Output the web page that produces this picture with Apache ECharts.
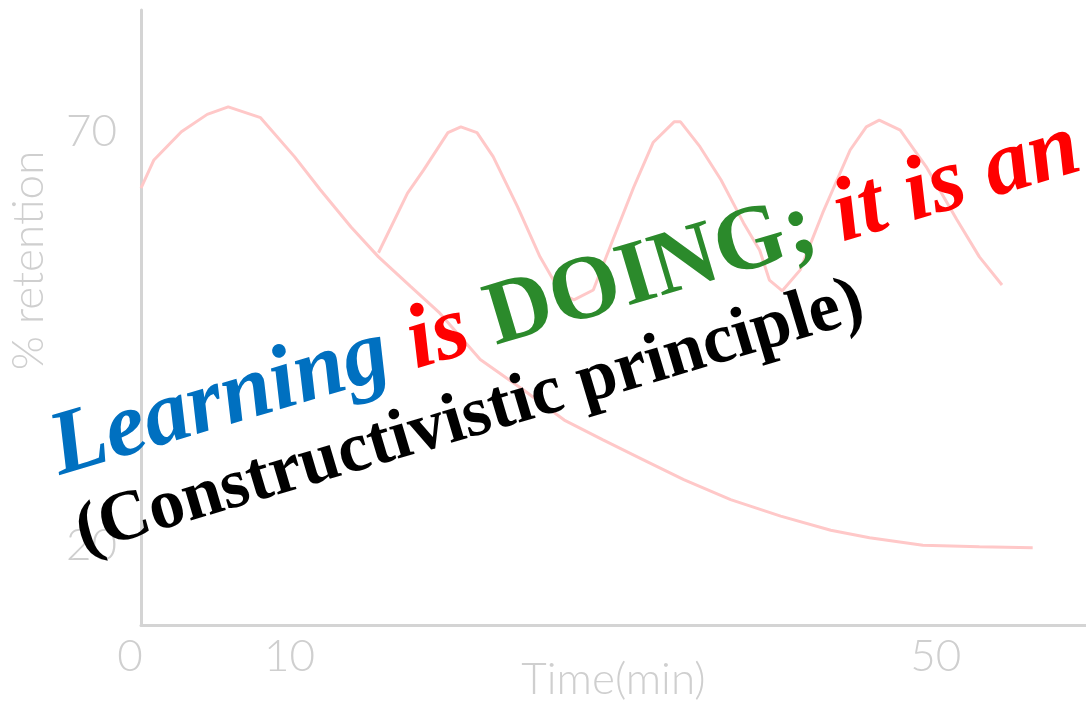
<!DOCTYPE html>
<html>
<head>
<meta charset="utf-8">
<script src="https://cdn.jsdelivr.net/npm/echarts@6/dist/echarts.min.js"></script>
<style>
    html, body { margin: 0; padding: 0; background: #fff; }
    #chart { width: 1086px; height: 702px; }
</style>
</head>
<body>
<div id="chart"></div>
<script>
// forgetting curve (no review)
const forgetTime = [0.8, 1.6, 3.3, 4.9, 6.2, 8.2, 10.3, 11.9, 13.8, 15.5, 17.5, 19.3, 21.8, 24.5, 27.0, 29.4, 31.9, 34.4, 37.3, 40.4, 43.5, 45.9, 49.2, 52.7, 56.0];
const forgetRetention = [63.2, 66.6, 70.0, 72.1, 73.0, 71.7, 67.0, 63.0, 58.5, 54.9, 51.3, 48.1, 42.5, 38.8, 35.2, 32.8, 30.4, 28.0, 25.6, 23.6, 21.9, 21.0, 20.1, 19.9, 19.8];

// retention with repeated reviews
const reviewTime = [15.5, 17.3, 18.3, 19.8, 20.6, 21.6, 22.6, 24.1, 25.5, 26.8, 27.6, 28.8, 30.0, 31.3, 32.5, 33.8, 34.2, 35.4, 36.7, 38.1, 39.1, 39.7, 40.5, 41.6, 43.0, 44.7, 45.7, 46.5, 47.8, 49.4, 51.3, 52.7, 54.1];
const reviewRetention = [55.4, 62.6, 65.4, 69.9, 70.6, 69.9, 67.0, 61.0, 54.9, 50.5, 49.7, 50.9, 56.9, 63.3, 68.7, 71.2, 71.2, 68.2, 64.2, 59.0, 55.7, 52.1, 50.8, 53.3, 60.2, 67.8, 70.6, 71.4, 70.2, 65.8, 59.4, 54.9, 51.5];

const xTicks = [0, 10, 50];
const yTicks = [20, 70];

const X_MIN = 0.8;
const X_MAX = 59.3;
const Y_MIN = 10.46;
const Y_MAX = 84.7;

const AXIS_GRAY = "#d4d4d4";
const LABEL_GRAY = "#cfcfcf";
const CURVE_PINK = "#ffc8c8";
const LABEL_FONT = "Lato";

const toPairs = (xs, ys) => xs.map((x, i) => [x, ys[i]]);

const chart = echarts.init(document.getElementById("chart"));

const rot = 16.6 * Math.PI / 180;
const headFont = (style) => style + ' 91px "Liberation Serif"';

chart.setOption({
    animation: false,
    backgroundColor: "#fff",
    grid: { left: 141, right: 0, top: 10, bottom: 77, containLabel: false, outerBoundsMode: "none" },
    xAxis: {
        type: "value",
        min: X_MIN,
        max: X_MAX,
        name: "Time(min)",
        nameLocation: "middle",
        nameGap: 33,
        nameMoveOverlap: false,
        nameTextStyle: { color: LABEL_GRAY, fontSize: 44, fontFamily: LABEL_FONT, fontWeight: 300 },
        axisLine: { show: true, lineStyle: { color: AXIS_GRAY, width: 3 } },
        axisTick: { show: false },
        splitLine: { show: false },
        axisLabel: {
            customValues: xTicks.map((v) => Math.max(v, X_MIN)),
            formatter: (v) => (v < 1 ? "{z|0}" : String(Math.round(v))),
            margin: 10,
            color: LABEL_GRAY,
            fontSize: 44,
            fontFamily: LABEL_FONT,
            fontWeight: 300,
            rich: { z: { padding: [0, 22, 0, 0], fontSize: 44, fontFamily: LABEL_FONT, fontWeight: 300, color: LABEL_GRAY } },
        },
    },
    yAxis: {
        type: "value",
        min: Y_MIN,
        max: Y_MAX,
        name: "% retention",
        nameLocation: "middle",
        nameGap: 90,
        nameMoveOverlap: false,
        nameTextStyle: { color: LABEL_GRAY, fontSize: 44, fontFamily: LABEL_FONT, fontWeight: 300, padding: [0, 0, 0, 114] },
        axisLine: { show: true, lineStyle: { color: AXIS_GRAY, width: 3 } },
        axisTick: { show: false },
        splitLine: { show: false },
        axisLabel: {
            customValues: yTicks,
            margin: 24,
            color: LABEL_GRAY,
            fontSize: 44,
            fontFamily: LABEL_FONT,
            fontWeight: 300,
        },
    },
    series: [
        {
            type: "line",
            data: toPairs(forgetTime, forgetRetention),
            showSymbol: false,
            lineStyle: { color: CURVE_PINK, width: 3 },
        },
        {
            type: "line",
            data: toPairs(reviewTime, reviewRetention),
            showSymbol: false,
            lineStyle: { color: CURVE_PINK, width: 3 },
        },
    ],
    graphic: [
        {
            type: "text",
            x: 66,
            y: 496,
            rotation: rot,
            z: 100,
            style: {
                text: "{b|Learning} {r|is} {g|DOING;} {r|it is an}",
                font: headFont("italic bold"),
                fill: "#ff0000",
                verticalAlign: "bottom",
                rich: {
                    b: { fill: "#0070c0", font: headFont("italic bold") },
                    r: { fill: "#ff0000", font: headFont("italic bold") },
                    g: { fill: "#2b8a2b", font: headFont("bold") },
                },
            },
        },
        {
            type: "text",
            x: 88,
            y: 569,
            rotation: rot,
            z: 100,
            style: {
                text: "(Constructivistic principle)",
                font: 'bold 71px "Liberation Serif"',
                fill: "#000",
                verticalAlign: "bottom",
            },
        },
    ],
});
</script>
</body>
</html>
